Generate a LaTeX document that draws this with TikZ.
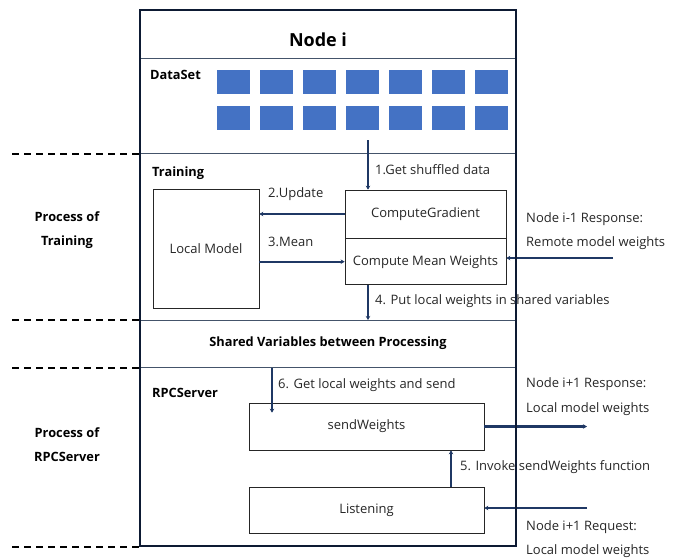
\documentclass[tikz,border=0pt]{standalone}
\usepackage{fontspec}
\setmainfont{Open Sans}
\usetikzlibrary{arrows.meta}
\definecolor{datablue}{HTML}{4472C4}
\definecolor{arrowblue}{HTML}{1F3864}
\definecolor{sepblue}{HTML}{44546A}
\definecolor{framenavy}{HTML}{0D1A33}
\begin{document}
\begin{tikzpicture}[x=1pt,y=-1pt,
    txt/.style={font=\fontsize{13}{15}\selectfont,text=black!85,inner sep=0pt,anchor=west},
    hdr/.style={font=\bfseries\fontsize{12.8}{15}\selectfont,inner sep=0pt},
    proc/.style={draw=black!85,line width=0.7pt,fill=white,inner sep=0pt,font=\fontsize{13}{15}\selectfont,text=black!85},
    flow/.style={draw=arrowblue,line width=2.2pt,-{Stealth[length=4pt,width=4.5pt]}},
    sep/.style={draw=sepblue,line width=0.8pt},
    part/.style={draw=black,line width=1.6pt,dash pattern=on 7pt off 5pt}]
  \useasboundingbox (0,0) rectangle (681,558);

  % Process boundaries
  \draw[part] (12,154) -- (140,154);
  \draw[part] (12,320) -- (140,320);
  \draw[part] (12,368) -- (140,368);
  \draw[part] (12,547) -- (140,547);
  \node[hdr,align=center,font=\bfseries\fontsize{12.8}{24}\selectfont] (ptrain) at (67,230) {Process of\\Training};
  \node[hdr,align=center,font=\bfseries\fontsize{12.8}{24}\selectfont] (prpc) at (67,445) {Process of\\RPCServer};

  % Node frame and sections
  \node[font=\bfseries\fontsize{18}{21}\selectfont] (title) at (318,40) {Node i};
  \draw[sep] (140,58) -- (516,58);
  \draw[sep] (140,153) -- (516,153);
  \draw[sep] (140,320) -- (516,320);
  \draw[sep] (140,367) -- (516,367);
  \node[hdr,anchor=west] (dataset) at (150,75) {DataSet};
  \node[hdr,anchor=west] (training) at (152,173) {Training};
  \node[hdr] (shared) at (328,343) {Shared Variables between Processing};
  \node[hdr,anchor=west] (rpc) at (152,393) {RPCServer};

  % Data samples
  \foreach \c in {0,...,6}
    \foreach \r in {0,1}
      \fill[datablue] ({217+43*\c},{70+36*\r}) rectangle +(33,24);

  % Training process
  \node[proc,minimum width=106pt,minimum height=119pt] (lm) at (206,248.5) {Local Model};
  \node[proc,minimum width=161pt,minimum height=48pt] (cg) at (425.5,214) {ComputeGradient};
  \node[proc,minimum width=161pt,minimum height=46pt,anchor=north] (cmw) at (cg.south) {Compute Mean Weights};
  \coordinate (get) at (368,140);
  \coordinate (shtop) at (368,320);
  \coordinate (resp1) at (613,258);
  \draw[flow] (get) -- (get |- cg.north);
  \draw[flow] (cg.west) -- (cg.west -| lm.east);
  \draw[flow] (cmw.west -| lm.east) -- (cmw.west);
  \draw[flow] (resp1) -- (resp1 -| cmw.east);
  \draw[flow] (get |- cmw.south) -- (shtop);
  \node[txt] (l1) at (375,170) {1.Get shuffled data};
  \node[txt] (l2) at (268,194) {2.Update};
  \node[txt] (l3) at (268,242) {3.Mean};
  \node[txt] (l4) at (375,301) {4. Put local weights in shared variables};
  \node[txt] (r1a) at (526,219) {Node i-1 Response:};
  \node[txt] (r1b) at (526,243) {Remote model weights};

  % RPC server process
  \node[proc,minimum width=235pt,minimum height=47pt] (sw) at (366.5,426.5) {sendWeights};
  \node[proc,minimum width=235pt,minimum height=46pt] (ls) at (366.5,510) {Listening};
  \coordinate (shbot) at (272,368);
  \coordinate (resp2) at (587,426.5);
  \coordinate (req) at (587,508);
  \draw[flow] (shbot) -- ([yshift=-10pt]shbot |- sw.north);
  \draw[flow] ([xshift=84.5pt]ls.north) -- ([xshift=84.5pt]sw.south);
  \draw[flow] (sw.east) -- (resp2);
  \draw[flow] (req) -- (req -| ls.east);
  \node[txt] (l6) at (278,385) {6. Get local weights and send};
  \node[txt] (l5) at (460,467) {5. Invoke sendWeights function};
  \node[txt] (r2a) at (526,384) {Node i+1 Response:};
  \node[txt] (r2b) at (526,409) {Local model weights};
  \node[txt] (r3a) at (526,527) {Node i+1 Request:};
  \node[txt] (r3b) at (526,551) {Local model weights};

  % Outer frame
  \draw[line width=2.4pt,draw=framenavy] (140,10) rectangle (516,546);
\end{tikzpicture}
\end{document}
